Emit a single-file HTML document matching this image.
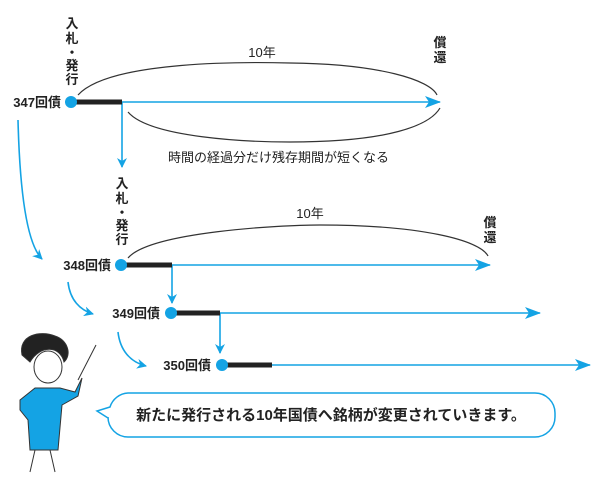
<!DOCTYPE html>
<html><head><meta charset="utf-8"><style>
body{margin:0;background:#fff}
svg{display:block}
text{font-family:"Liberation Sans","Noto Sans CJK JP",sans-serif;fill:#222}
.b{font-weight:bold;font-size:13px}
</style></head><body>
<svg width="600" height="480" viewBox="0 0 600 480">
<defs>
<marker id="a" markerWidth="10" markerHeight="10" refX="9" refY="5" orient="auto" markerUnits="userSpaceOnUse"><path d="M0,0 L10,5 L0,10 L3,5Z" fill="#14a3e4"/></marker>
<marker id="a2" markerWidth="16" markerHeight="12" refX="15" refY="6" orient="auto" markerUnits="userSpaceOnUse"><path d="M0,0 L16,6 L0,12 L4,6Z" fill="#14a3e4"/></marker>
</defs>
<g fill="none" stroke="#333" stroke-width="1.2">
<path d="M78,95 C110,60 250,62 290,63 C380,64 430,80 437,95"/>
<path d="M128,112 C150,138 250,142 290,142 C390,142 430,125 440,108"/>
<path d="M128,258 C150,232 280,225 320,225 C420,225 480,240 488,256"/>
</g>
<g stroke="#14a3e4" stroke-width="1.6" fill="none">
<line x1="122" y1="102" x2="440" y2="102" marker-end="url(#a2)"/>
<line x1="172" y1="265" x2="490" y2="265" marker-end="url(#a2)"/>
<line x1="220" y1="313" x2="540" y2="313" marker-end="url(#a2)"/>
<line x1="272" y1="365" x2="590" y2="365" marker-end="url(#a2)"/>
<line x1="122" y1="102" x2="122" y2="167" marker-end="url(#a)"/>
<line x1="172" y1="265" x2="172" y2="303" marker-end="url(#a)"/>
<line x1="220" y1="313" x2="220" y2="353" marker-end="url(#a)"/>
<path d="M18,120 C20,200 28,245 42,259" marker-end="url(#a)"/>
<path d="M68,282 C70,300 80,310 93,314" marker-end="url(#a)"/>
<path d="M118,332 C120,350 130,362 146,366" marker-end="url(#a)"/>
</g>
<g stroke="#222" stroke-width="5"><line x1="72" y1="102" x2="122" y2="102"/><line x1="122" y1="265" x2="172" y2="265"/><line x1="172" y1="313" x2="220" y2="313"/><line x1="224" y1="365" x2="272" y2="365"/></g>
<g fill="#14a3e4"><circle cx="71" cy="102" r="6"/><circle cx="121" cy="265" r="6"/><circle cx="171" cy="313" r="6"/><circle cx="222" cy="365" r="6"/></g>
<text x="61" y="107" text-anchor="end" class="b">347回債</text>
<text x="111" y="270" text-anchor="end" class="b">348回債</text>
<text x="160" y="318" text-anchor="end" class="b">349回債</text>
<text x="211" y="370" text-anchor="end" class="b">350回債</text>
<g text-anchor="middle">
<text x="72" y="28" class="b">入</text><text x="72" y="43" class="b">札</text><text x="72" y="57" class="b">・</text><text x="72" y="70" class="b">発</text><text x="72" y="84" class="b">行</text>
<text x="122" y="188" class="b">入</text><text x="122" y="203" class="b">札</text><text x="122" y="217" class="b">・</text><text x="122" y="230" class="b">発</text><text x="122" y="244" class="b">行</text>
<text x="440" y="47" class="b">償</text><text x="440" y="62" class="b">還</text>
<text x="490" y="227" class="b">償</text><text x="490" y="242" class="b">還</text>
</g>
<text x="262" y="57" font-size="13" text-anchor="middle">10年</text>
<text x="310" y="218" font-size="13" text-anchor="middle">10年</text>
<text x="168" y="162" font-size="13">時間の経過分だけ残存期間が短くなる</text>
<path d="M128,393 H535 A20,20 0 0 1 555,413 V417 A20,20 0 0 1 535,437 H128 A20,20 0 0 1 108,417 V418 L97,411 L110,407 A20,20 0 0 1 128,393Z" fill="#fff" stroke="#14a3e4" stroke-width="1.5"/>
<text x="331" y="420" font-size="15" font-weight="bold" text-anchor="middle">新たに発行される10年国債へ銘柄が変更されていきます。</text>
<g stroke="#333" stroke-width="1">
<line x1="78" y1="380" x2="96" y2="345"/>
<path d="M22,355 C18,335 40,330 55,336 C68,340 72,355 64,362 C60,345 40,345 30,362Z" fill="#222"/>
<ellipse cx="48" cy="367" rx="14" ry="16" fill="#fff"/>
<path d="M20,400 L35,388 L60,388 L75,392 L82,378 L78,396 L62,405 L58,450 L30,450 L28,420 L20,410Z" fill="#14a3e4"/>
<line x1="35" y1="450" x2="30" y2="472"/><line x1="50" y1="450" x2="55" y2="472"/>
</g>
</svg>
</body></html>
